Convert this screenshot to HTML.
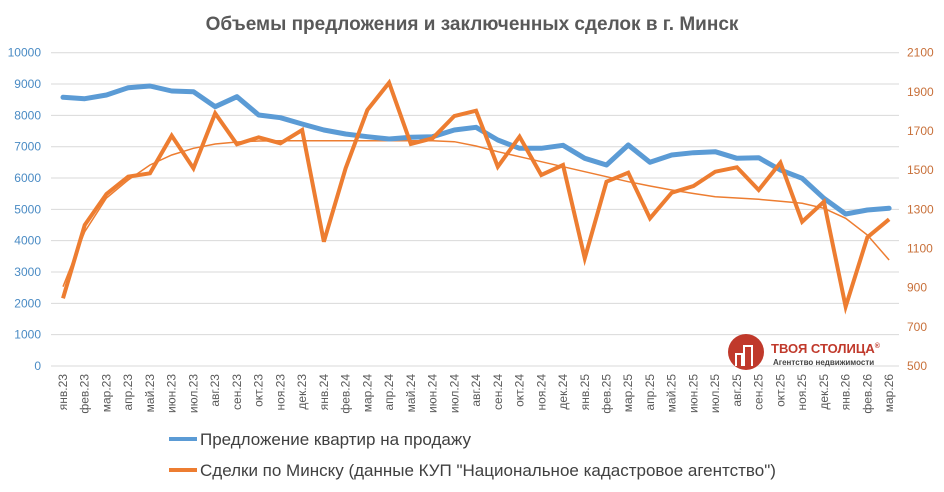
<!DOCTYPE html>
<html><head><meta charset="utf-8"><style>
body{margin:0;background:#fff;}
svg{display:block;font-family:"Liberation Sans","DejaVu Sans",sans-serif;}
</style></head><body>
<svg id="s" width="944" height="492" xmlns="http://www.w3.org/2000/svg">
<rect width="944" height="492" fill="#fff"/>
<text x="472" y="30" text-anchor="middle" font-size="19" font-weight="bold" fill="#595959">Объемы предложения и заключенных сделок в г. Минск</text>
<g id="grid"></g>
<g id="labels"></g>
<polyline id="trend" fill="none" stroke="#ED7D31" stroke-width="1.5"/>
<polyline id="blue" fill="none" stroke="#5B9BD5" stroke-width="5" stroke-linejoin="round" stroke-linecap="round"/>
<polyline id="orange" fill="none" stroke="#ED7D31" stroke-width="4" stroke-linejoin="miter"/>
<circle cx="746" cy="352" r="18" fill="#C0392B"/>
<path d="M736 366 v-12 h6 v12 M744 366 v-20 h8 v20" fill="none" stroke="#fff" stroke-width="2"/>
<text x="771" y="353" font-size="13" font-weight="bold" fill="#C0392B">ТВОЯ СТОЛИЦА<tspan font-size="7" dy="-5">®</tspan></text>
<text x="773" y="365" font-size="8" font-weight="bold" fill="#444">Агентство недвижимости</text>
<line x1="169" y1="439" x2="197" y2="439" stroke="#5B9BD5" stroke-width="4"/>
<text x="200" y="445" font-size="17" fill="#404040">Предложение квартир на продажу</text>
<line x1="169" y1="470" x2="197" y2="470" stroke="#ED7D31" stroke-width="4"/>
<text x="200" y="476" font-size="17" fill="#404040">Сделки по Минску (данные КУП "Национальное кадастровое агентство")</text>
</svg>
<script>
var ns="http://www.w3.org/2000/svg";
function el(t,a,p,txt){var e=document.createElementNS(ns,t);for(var k in a)e.setAttribute(k,a[k]);if(txt!==undefined)e.textContent=txt;p.appendChild(e);return e;}
var g=document.getElementById('grid'),L=document.getElementById('labels');
for(var i=0;i<=10;i++){var y=366-i*31.33;
el('line',{x1:51,x2:899,y1:y,y2:y,stroke:'#d9d9d9','stroke-width':1},g);
el('text',{x:41,y:y+4,'text-anchor':'end','font-size':12,fill:'#4A8BC4'},L,String(i*1000));
if(i<=8)el('text',{x:907,y:366-i*39.16+4,'font-size':12,fill:'#C8703A'},L,String(500+i*200));}
var m=['янв','фев','мар','апр','май','июн','июл','авг','сен','окт','ноя','дек'];
var B=[97.3,98.7,95,87.7,86,91,91.7,106.7,96.7,115,117.7,124,130,134,136.7,139,137.3,136.7,130,127.3,140,148.3,148.3,145.3,158.3,165,145,162.3,155,152.7,151.7,158.3,157.7,170,178.3,198.3,214,210,208.3];
var O=[298.3,225,194,176.7,173.3,135.7,168.3,113.3,144.3,137.3,143.3,130,241.7,168.3,110,82.7,144,138.3,116,110.7,166.7,136.7,175,165,258.3,181.7,172.7,218.3,192.7,186,171.7,167.3,190,162.7,221.7,201.7,306.7,237.3,219.3];
var T=[286.7,231.7,198,180,165,155,148.3,144,142,141,140.7,140.7,140.7,140.7,140.7,140.7,140.7,140.7,141.7,146,151.7,156.7,161.7,166.7,171.7,176.7,181.7,186,190,193.5,196.7,198,199.3,201.3,203.3,208.3,218.3,235,260];
var pb=[],po=[],pt=[];
for(var i=0;i<39;i++){var x=63+i*21.74;pb.push(x+','+B[i]);po.push(x+','+O[i]);pt.push(x+','+T[i]);
var lab=m[i%12]+'.'+(23+Math.floor(i/12));
el('text',{x:0,y:0,'text-anchor':'end','font-size':12,fill:'#595959',transform:'translate('+(x+4)+',374) rotate(-90)'},L,lab);}
document.getElementById('blue').setAttribute('points',pb.join(' '));
document.getElementById('orange').setAttribute('points',po.join(' '));
document.getElementById('trend').setAttribute('points',pt.join(' '));
</script>
</body></html>
